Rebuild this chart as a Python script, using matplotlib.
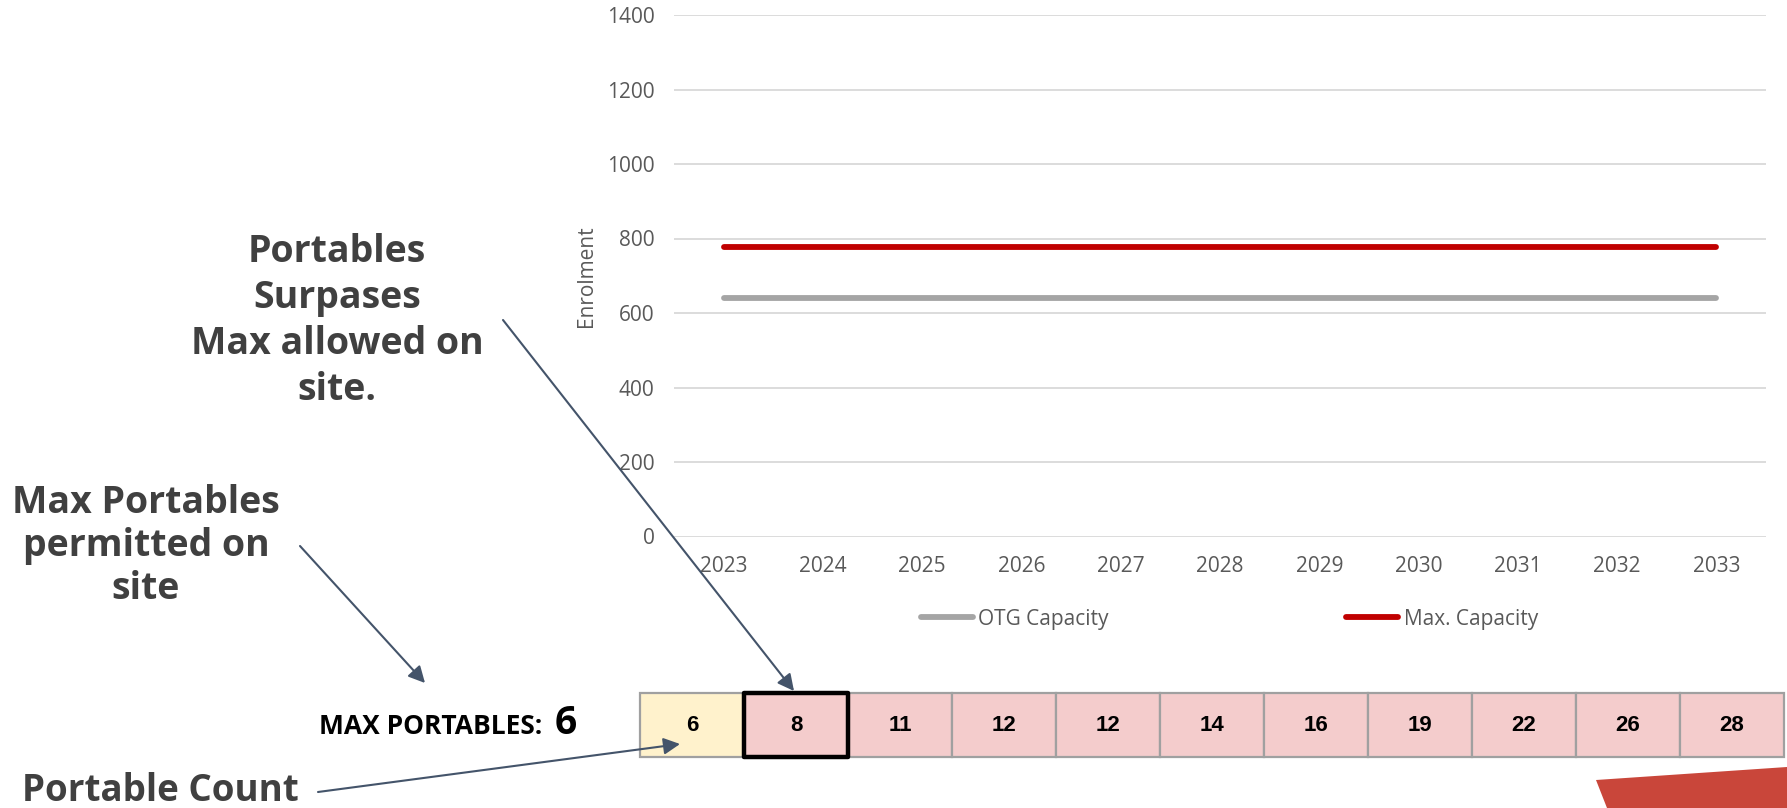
import matplotlib
matplotlib.use("Agg")
import matplotlib.pyplot as plt
from matplotlib.patches import Rectangle, Polygon

# ---------------- data ----------------
years = ["2023", "2024", "2025", "2026", "2027", "2028", "2029", "2030", "2031", "2032", "2033"]
otg_capacity = [640, 640, 640, 640, 640, 640, 640, 640, 640, 640, 640]
max_capacity = [778, 778, 778, 778, 778, 778, 778, 778, 778, 778, 778]
portable_counts = [6, 8, 11, 12, 12, 14, 16, 19, 22, 26, 28]
max_portables = 6
highlight_index = 1
y_ticks = [0, 200, 400, 600, 800, 1000, 1200, 1400]

W, H = 1787, 808
fig = plt.figure(figsize=(W / 100, H / 100), dpi=100)
fig.patch.set_facecolor("white")

def fx(x):
    return x / W

def fy(y):
    return 1 - y / H

# ---------------- main chart ----------------
ax_l, ax_r, ax_t, ax_b = 674, 1766, 15, 536.5
ax = fig.add_axes([fx(ax_l), fy(ax_b), (ax_r - ax_l) / W, (ax_b - ax_t) / H])
xs = list(range(len(years)))
ax.plot(xs, otg_capacity, color="#A5A5A5", lw=4.2, solid_capstyle="round", label="OTG Capacity", zorder=3)
ax.plot(xs, max_capacity, color="#C00000", lw=4.2, solid_capstyle="round", label="Max. Capacity", zorder=3)
ax.set_xlim(-0.5, len(years) - 0.5)
ax.set_ylim(0, 1400)
ax.set_yticks(y_ticks)
ax.set_yticklabels([str(v) for v in y_ticks])
ax.set_xticks(xs)
ax.set_xticklabels(years)
for s in ax.spines.values():
    s.set_visible(False)
ax.grid(axis="y", color="#D9D9D9", lw=1.3, zorder=0)
ax.tick_params(axis="both", length=0, labelsize=15, labelcolor="#595959")
ax.tick_params(axis="y", pad=14)
ax.tick_params(axis="x", pad=14)
for lab in ax.get_xticklabels() + ax.get_yticklabels():
    lab.set_fontfamily("Open Sans")
ax.set_ylabel("Enrolment", fontsize=15, color="#595959", family="Open Sans", labelpad=7)
ax.set_facecolor("white")

leg = fig.legend(loc="center left", bbox_to_anchor=(fx(921), fy(619)), ncol=2, frameon=False,
                 borderpad=0, borderaxespad=0,
                 handlelength=2.5, handletextpad=0.25, columnspacing=11.4,
                 prop={"family": "Open Sans", "size": 15})
for t in leg.get_texts():
    t.set_color("#595959")

# ---------------- portable count table ----------------
tb_l, tb_r, tb_t, tb_b = 640, 1784, 693.3, 757.3
tax = fig.add_axes([fx(tb_l), fy(tb_b), (tb_r - tb_l) / W, (tb_b - tb_t) / H])
tax.set_xlim(0, len(portable_counts))
tax.set_ylim(0, 1)
tax.axis("off")
for i, v in enumerate(portable_counts):
    fc = "#FFF2CC" if v <= max_portables else "#F4CCCC"
    tax.add_patch(Rectangle((i, 0), 1, 1, facecolor=fc, edgecolor="#A0A0A0", lw=1.6, clip_on=False, zorder=1))
    tax.text(i + 0.5, 0.5, str(v), ha="center", va="center", fontsize=16, fontweight="bold",
             family="Liberation Sans", color="black", zorder=4)
tax.add_patch(Rectangle((highlight_index, 0), 1, 1, facecolor="none", edgecolor="black", lw=3.2,
                        clip_on=False, zorder=3, joinstyle="round"))

# ---------------- labels ----------------
fig.text(fx(319), fy(734), "MAX PORTABLES:", ha="left", va="baseline", fontsize=19,
         fontweight="bold", family="Open Sans", color="black")
fig.text(fx(577), fy(734), str(max_portables), ha="right", va="baseline", fontsize=28,
         fontweight="bold", family="Open Sans", color="black")

note_color = "#404040"
fig.text(fx(337), fy(321), "Portables\nSurpases\nMax allowed on\nsite.", ha="center", va="center",
         fontsize=27, fontweight="bold", family="Open Sans", color=note_color, linespacing=1.27)
fig.text(fx(146), fy(546), "Max Portables\npermitted on\nsite", ha="center", va="center",
         fontsize=27, fontweight="bold", family="Open Sans", color=note_color, linespacing=1.16)
fig.text(fx(22), fy(801), "Portable Count", ha="left", va="baseline",
         fontsize=26.5, fontweight="bold", family="Open Sans", color=note_color)

# ---------------- arrows ----------------
arrow_color = "#44546A"
def arrow(x0, y0, x1, y1):
    fig.add_artist(matplotlib.patches.FancyArrowPatch(
        (fx(x0), fy(y0)), (fx(x1), fy(y1)), transform=fig.transFigure,
        arrowstyle="-|>,head_length=0.55,head_width=0.28", mutation_scale=18,
        color=arrow_color, lw=1.5, shrinkA=0, shrinkB=0, zorder=10))

arrow(503, 320, 794, 691)
arrow(300, 546, 425, 683)
arrow(318, 792, 680, 744)

# ---------------- decorative shape ----------------
fig.add_artist(Polygon([(fx(1596), fy(780)), (fx(1787), fy(767)), (fx(1787), fy(808)), (fx(1607), fy(808))],
                       closed=True, transform=fig.transFigure, facecolor="#C9463A", edgecolor="none", zorder=0))

fig.savefig("out.png", dpi=100, facecolor="white")
